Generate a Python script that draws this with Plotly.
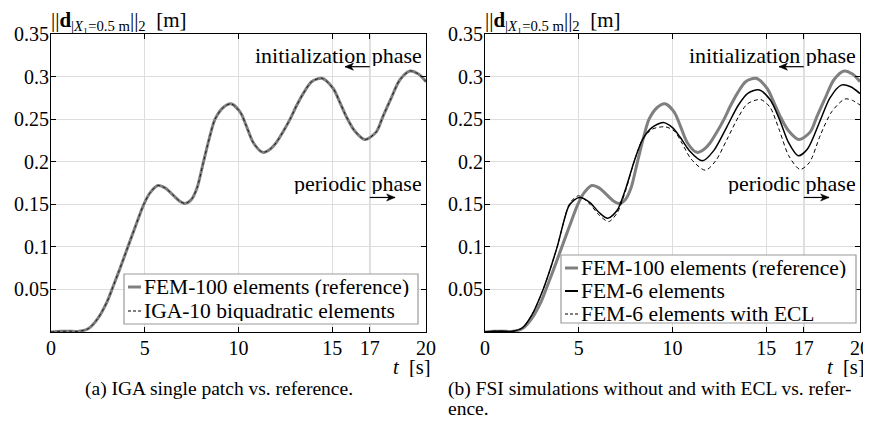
import plotly.graph_objects as go

W, H = 871, 423          # window size
OFF = 8                  # page body margin of the html page
FW, FH = W - OFF, H - OFF

# ---------------- data ----------------
# FEM-100 elements (reference) -- same curve in both panels
t_ref = [0, 0.5, 1.0, 1.4, 2.0, 2.5, 3.0, 3.25, 3.6, 4.1, 4.5, 4.95, 5.3, 5.7, 6.1,
         6.5, 6.85, 7.15, 7.5, 7.8, 8.1, 8.45, 8.75, 9.2, 9.6, 10.1, 10.4, 10.8, 11.3,
         11.7, 12.0, 12.4, 12.75, 13.1, 13.45, 13.9, 14.45, 15.05, 15.4, 15.75, 16.2,
         16.75, 17.35, 17.7, 18.1, 18.6, 19.15, 19.6, 20]
d_ref = [0, 0.0008, 0.001, 0.0005, 0.004, 0.016, 0.036, 0.05, 0.07, 0.1, 0.124, 0.15, 0.164,
         0.172, 0.169, 0.161, 0.154, 0.151, 0.156, 0.17, 0.197, 0.228, 0.25, 0.264, 0.268,
         0.258, 0.243, 0.222, 0.211, 0.215, 0.222, 0.236, 0.25, 0.266, 0.28, 0.294, 0.298,
         0.286, 0.27, 0.253, 0.236, 0.226, 0.235, 0.253, 0.2725, 0.296, 0.3066, 0.303, 0.294]

# IGA-10 biquadratic elements (left panel, lies on top of the reference)
t_iga = list(t_ref)
d_iga = list(d_ref)

# FEM-6 elements (right panel)
t_fem6 = [0, 0.5, 1.0, 1.4, 2.0, 2.5, 3.1, 3.45, 3.85, 4.45, 4.75, 5.05, 5.6, 6.1, 6.55,
          7.05, 7.5, 7.95, 8.4, 8.9, 9.5, 10.0, 10.4, 10.9, 11.6, 12.2, 12.9, 13.5, 14.0,
          14.6, 15.2, 15.7, 16.2, 16.7, 17.2, 17.85, 18.4, 19.0, 19.5, 20]
d_fem6 = [0, 0.0008, 0.001, 0.0005, 0.005, 0.02, 0.05, 0.072, 0.1, 0.147, 0.155, 0.158,
          0.152, 0.14, 0.1335, 0.143, 0.168, 0.2, 0.226, 0.24, 0.246, 0.24, 0.229, 0.213,
          0.201, 0.213, 0.241, 0.266, 0.28, 0.2845, 0.273, 0.25, 0.222, 0.207, 0.215,
          0.247, 0.275, 0.29, 0.288, 0.28]

# FEM-6 elements with ECL (right panel)
t_ecl = [0, 0.5, 1.0, 1.4, 2.0, 2.5, 3.1, 3.45, 3.85, 4.45, 4.7, 5.0, 5.6, 6.1, 6.6,
         7.05, 7.5, 7.95, 8.4, 8.9, 9.6, 10.1, 10.5, 11.0, 11.75, 12.3, 12.9, 13.5, 14.0,
         14.7, 15.2, 15.7, 16.2, 16.8, 17.3, 17.9, 18.5, 19.2, 19.6, 20]
d_ecl = [0, 0.0008, 0.001, 0.0005, 0.005, 0.02, 0.05, 0.072, 0.1, 0.148, 0.156, 0.16,
         0.15, 0.137, 0.1297, 0.14, 0.166, 0.2, 0.226, 0.238, 0.241, 0.236, 0.222, 0.203,
         0.19, 0.201, 0.226, 0.252, 0.268, 0.273, 0.264, 0.237, 0.207, 0.191, 0.199,
         0.232, 0.259, 0.2737, 0.272, 0.2666]

x_ticks = [0, 5, 10, 15, 17, 20]
x_ticktext = ['0', '5', '10', '15', '17', '20']
y_ticks = [0.05, 0.1, 0.15, 0.2, 0.25, 0.3, 0.35]
y_ticktext = ['0.05', '0.1', '0.15', '0.2', '0.25', '0.3', '0.35']
t_switch = 17

# ---------------- styling ----------------
FONT = 'Liberation Serif'
GRAY = '#808080'


def PX(x):
    return (x - OFF) / FW


def PY(y):
    return 1 - (y - OFF) / FH


fig = go.Figure()

# left panel
fig.add_trace(go.Scatter(x=t_ref, y=d_ref, xaxis='x', yaxis='y', mode='lines',
                         name='FEM-100 elements (reference)', showlegend=False,
                         line=dict(color=GRAY, width=3, shape='spline', smoothing=0.8)))
fig.add_trace(go.Scatter(x=t_iga, y=d_iga, xaxis='x', yaxis='y', mode='lines',
                         name='IGA-10 biquadratic elements', showlegend=False,
                         line=dict(color='#1a1a1a', width=1, dash='3px,3px',
                                   shape='spline', smoothing=0.8)))
# right panel
fig.add_trace(go.Scatter(x=t_ref, y=d_ref, xaxis='x2', yaxis='y2', mode='lines',
                         name='FEM-100 elements (reference)', showlegend=False,
                         line=dict(color=GRAY, width=3, shape='spline', smoothing=0.8)))
fig.add_trace(go.Scatter(x=t_fem6, y=d_fem6, xaxis='x2', yaxis='y2', mode='lines',
                         name='FEM-6 elements', showlegend=False,
                         line=dict(color='black', width=1.5, shape='spline', smoothing=0.8)))
fig.add_trace(go.Scatter(x=t_ecl, y=d_ecl, xaxis='x2', yaxis='y2', mode='lines',
                         name='FEM-6 elements with ECL', showlegend=False,
                         line=dict(color='black', width=1, dash='4px,3px',
                                   shape='spline', smoothing=0.8)))

tickfont = dict(family=FONT, size=20, color='black')
xax = dict(range=[0, 20], tickmode='array', tickvals=x_ticks, ticktext=x_ticktext,
           showgrid=True, gridcolor='#dddddd', gridwidth=1, showline=True,
           linecolor='black', linewidth=1, mirror='ticks', ticks='inside', ticklen=5,
           tickcolor='black', zeroline=False, tickfont=tickfont, automargin=False,
           fixedrange=True, ticklabelstandoff=-2)
yax = dict(range=[0, 0.35], tickmode='array', tickvals=y_ticks, ticktext=y_ticktext,
           showgrid=True, gridcolor='#dddddd', gridwidth=1, showline=True,
           linecolor='black', linewidth=1, mirror='ticks', ticks='inside', ticklen=5,
           tickcolor='black', zeroline=False, tickfont=tickfont, automargin=False,
           fixedrange=True, ticklabelstandoff=-3)

ydom = [PY(332), PY(34)]
fig.update_layout(
    width=FW, height=FH, margin=dict(l=0, r=0, t=0, b=0),
    paper_bgcolor='white', plot_bgcolor='white',
    font=dict(family=FONT, color='black'),
    xaxis=dict(xax, domain=[PX(51), PX(426)], anchor='y'),
    yaxis=dict(yax, domain=ydom, anchor='x'),
    xaxis2=dict(xax, domain=[PX(485), PX(860)], anchor='y2'),
    yaxis2=dict(yax, domain=ydom, anchor='x2'),
    showlegend=False,
)

shapes = []
annotations = []

# arrow geometry in axis units (1 s = 18.75 px, 0.01 m = 8.5 px)
HEAD_L = 0.45
HEAD_W = 0.0042


def arrow(xr, yr, x_tail, x_head, yv):
    shapes.append(dict(type='line', xref=xr, yref=yr, x0=x_tail, x1=x_head, y0=yv, y1=yv,
                       line=dict(color='black', width=1.2)))
    s = 1 if x_head > x_tail else -1
    xb = x_head - s * HEAD_L
    shapes.append(dict(type='path', xref=xr, yref=yr,
                       path=f'M {x_head} {yv} L {xb} {yv + HEAD_W} L {xb + s * 0.12} {yv} '
                            f'L {xb} {yv - HEAD_W} Z',
                       fillcolor='black', line=dict(color='black', width=0.5)))


for xr, yr, x0px in (('x', 'y', 51), ('x2', 'y2', 485)):
    # switch line at t = 17
    shapes.append(dict(type='line', xref=xr, yref=yr + ' domain', x0=t_switch, x1=t_switch,
                       y0=0, y1=1, line=dict(color='#b3b3b3', width=1.3), layer='below'))
    # phase texts and arrows
    annotations.append(dict(xref=xr + ' domain', yref=yr, x=0.995, y=0.3255,
                            xanchor='right', yanchor='middle', text='initialization phase',
                            showarrow=False, font=dict(family=FONT, size=22), height=22))
    arrow(xr, yr, t_switch, 15.68, 0.3116)
    annotations.append(dict(xref=xr + ' domain', yref=yr, x=0.995, y=0.1755,
                            xanchor='right', yanchor='middle', text='periodic phase',
                            showarrow=False, font=dict(family=FONT, size=22), height=22))
    arrow(xr, yr, t_switch, 18.35, 0.158)
    # y-axis label
    annotations.append(dict(xref='paper', yref='paper', x=PX(x0px - 2), y=PY(21),
                            xanchor='left', yanchor='middle', showarrow=False,
                            text='||<b>d</b><sub>|<i>X</i>₁=0.5 m</sub>||<sub>2</sub>  [m]',
                            font=dict(family=FONT, size=21)))
    # x-axis label
    annotations.append(dict(xref='paper', yref='paper', x=PX(x0px + 382), y=PY(367),
                            xanchor='right', yanchor='middle', showarrow=False,
                            text='<i>t</i>  [s]', font=dict(family=FONT, size=20.5), height=20))

# captions
annotations.append(dict(xref='paper', yref='paper', x=PX(219), y=PY(389), xanchor='center',
                        yanchor='middle', showarrow=False,
                        text='(a) IGA single patch vs. reference.',
                        font=dict(family=FONT, size=19.5)))
annotations.append(dict(xref='paper', yref='paper', x=PX(446), y=PY(389), xanchor='left',
                        yanchor='middle', showarrow=False,
                        text='(b) FSI simulations without and with ECL vs. refer-',
                        font=dict(family=FONT, size=19.5), height=20))
annotations.append(dict(xref='paper', yref='paper', x=PX(446), y=PY(408), xanchor='left',
                        yanchor='middle', showarrow=False, text='ence.',
                        font=dict(family=FONT, size=19.5), height=18))


# custom legends (box, short line samples, labels)
def legend(box, entries, x_sample, x_text):
    x0, x1, y0, y1 = box
    shapes.append(dict(type='rect', xref='paper', yref='paper', x0=PX(x0), x1=PX(x1),
                       y0=PY(y1), y1=PY(y0), line=dict(color='#9a9a9a', width=1.2),
                       fillcolor='white', layer='above'))
    for (yc, label, color, width, dash) in entries:
        shapes.append(dict(type='line', xref='paper', yref='paper', x0=PX(x_sample[0]),
                           x1=PX(x_sample[1]), y0=PY(yc), y1=PY(yc), layer='above',
                           line=dict(color=color, width=width, dash=dash)))
        annotations.append(dict(xref='paper', yref='paper', x=PX(x_text), y=PY(yc),
                                xanchor='left', yanchor='middle', showarrow=False,
                                text=label, font=dict(family=FONT, size=21.5), height=20))


legend((124, 418, 274, 324),
       [(287, 'FEM-100 elements (reference)', GRAY, 3, 'solid'),
        (311, 'IGA-10 biquadratic elements', 'black', 1, '3px,2px')],
       (128, 141), 142)
legend((561, 856, 255, 323),
       [(268, 'FEM-100 elements (reference)', GRAY, 3, 'solid'),
        (291, 'FEM-6 elements', 'black', 2, 'solid'),
        (314, 'FEM-6 elements with ECL', 'black', 1, '3px,2px')],
       (565, 578), 579)

fig.update_layout(shapes=shapes, annotations=annotations)
fig.write_html('out.html')
